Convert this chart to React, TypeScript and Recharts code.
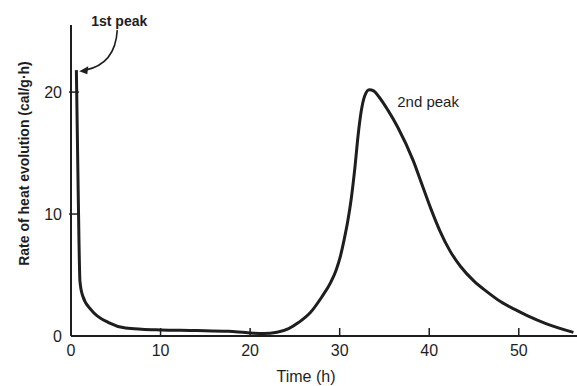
import React from 'react';
import { LineChart, Line, XAxis, YAxis, ReferenceDot, Label } from 'recharts';

// hours after mixing
const timeH = [0.6, 0.8, 1.0, 1.3, 2.3, 4.2, 6.1, 7.9, 10, 14, 17.6, 19.5, 21.5, 23, 24.3, 25.4, 26.7, 28, 29, 29.6, 30.1, 30.5, 30.9, 31.3, 31.7, 32.05, 32.4, 32.8, 33.3, 33.8, 34.4, 35.4, 36.5, 38.2, 39.2, 40.2, 41.2, 42.3, 43.5, 45, 46.5, 48, 49.5, 51, 53.1, 56.1];
// cal/g.h
const heatRate = [21.8, 12, 4.5, 3.3, 2.1, 1.1, 0.65, 0.55, 0.5, 0.45, 0.38, 0.28, 0.2, 0.3, 0.6, 1.1, 1.9, 3.2, 4.4, 5.4, 6.6, 7.9, 9.4, 11.3, 13.8, 16.4, 18.4, 19.7, 20.2, 20.1, 19.6, 18.5, 17.1, 14.4, 12.4, 10.4, 8.6, 7.0, 5.7, 4.5, 3.6, 2.8, 2.2, 1.65, 1.0, 0.3];

const xTicks = [0, 10, 20, 30, 40, 50];
const yTicks = [0, 10, 20];

const firstPeak = { t: 0.7, rate: 21.8, label: '1st peak' };
const secondPeak = { t: 33.3, rate: 20.2, label: '2nd peak' };

const INK = '#1e1e1e';
const FONT = '"Liberation Sans", Arial, sans-serif';
const GAP = 9;

const data = timeH.map((t, i) => ({ t, rate: heatRate[i] }));

const XTick = ({ x, y, payload }: any) => (
  <g>
    {payload.value !== 0 && <line x1={x} x2={x} y1={y - GAP} y2={y - GAP - 8} stroke={INK} strokeWidth={1.5} />}
    <text x={x} y={y} dy="0.71em" textAnchor="middle" fontFamily={FONT} fontSize={16} fill={INK}>{payload.value}</text>
  </g>
);

const YTick = ({ x, y, payload }: any) => (
  <g>
    {payload.value !== 0 && <line x1={x + GAP - 2} x2={x + GAP + 8} y1={y} y2={y} stroke={INK} strokeWidth={1.5} />}
    <text x={x} y={y} dy="0.36em" textAnchor="end" fontFamily={FONT} fontSize={16} fill={INK}>{payload.value}</text>
  </g>
);

const FirstPeakNote = ({ cx, cy }: any) => (
  <g>
    <text x={cx + 42} y={cy - 49} dy="0.36em" textAnchor="middle" fontFamily={FONT} fontSize={14} fontWeight="bold" fill={INK}>{firstPeak.label}</text>
    <path d={`M${cx + 40} ${cy - 40} Q${cx + 38} ${cy - 6} ${cx + 8} ${cy}`} fill="none" stroke={INK} strokeWidth={1.6} />
    <path d={`M${cx + 2} ${cy + 1} L${cx + 11} ${cy - 4} L${cx + 10} ${cy + 4} Z`} fill={INK} />
  </g>
);

const SecondPeakNote = ({ cx, cy }: any) => (
  <text x={cx + 28} y={cy + 12} dy="0.36em" textAnchor="start" fontFamily={FONT} fontSize={15} fill={INK}>{secondPeak.label}</text>
);

export default function App() {
  return (
    <div style={{ position: 'absolute', left: 0, top: 0, background: '#fff' }}>
      <LineChart width={577} height={386} data={data} margin={{ top: 25, right: 0, bottom: 20, left: 0 }}>
        <XAxis
          dataKey="t"
          type="number"
          domain={[0, 56.5]}
          ticks={xTicks}
          allowDataOverflow
          tickSize={0}
          tickMargin={GAP}
          height={30}
          axisLine={{ stroke: INK, strokeWidth: 2 }}
          tick={<XTick />}
        >
          <Label
            content={({ viewBox }: any) => (
              <text x={viewBox.x + 235} y={viewBox.y + viewBox.height + 16} textAnchor="middle" fontFamily={FONT} fontSize={16} fill={INK}>Time (h)</text>
            )}
          />
        </XAxis>
        <YAxis
          type="number"
          domain={[0, 25.5]}
          ticks={yTicks}
          allowDataOverflow
          width={71}
          tickSize={0}
          tickMargin={GAP}
          axisLine={{ stroke: INK, strokeWidth: 2 }}
          tick={<YTick />}
        >
          <Label
            content={({ viewBox }: any) => {
              const lx = viewBox.x + 24;
              const ly = viewBox.y + viewBox.height / 2 - 17;
              return (
                <text x={lx} y={ly} transform={`rotate(-90 ${lx} ${ly})`} dy="0.36em" textAnchor="middle" fontFamily={FONT} fontSize={14} fontWeight="bold" fill={INK}>
                  Rate of heat evolution (cal/g·h)
                </text>
              );
            }}
          />
        </YAxis>
        <Line type="monotone" dataKey="rate" stroke={INK} strokeWidth={3} dot={false} isAnimationActive={false} />
        <ReferenceDot x={firstPeak.t} y={firstPeak.rate} shape={<FirstPeakNote />} />
        <ReferenceDot x={secondPeak.t} y={secondPeak.rate} shape={<SecondPeakNote />} />
      </LineChart>
    </div>
  );
}
